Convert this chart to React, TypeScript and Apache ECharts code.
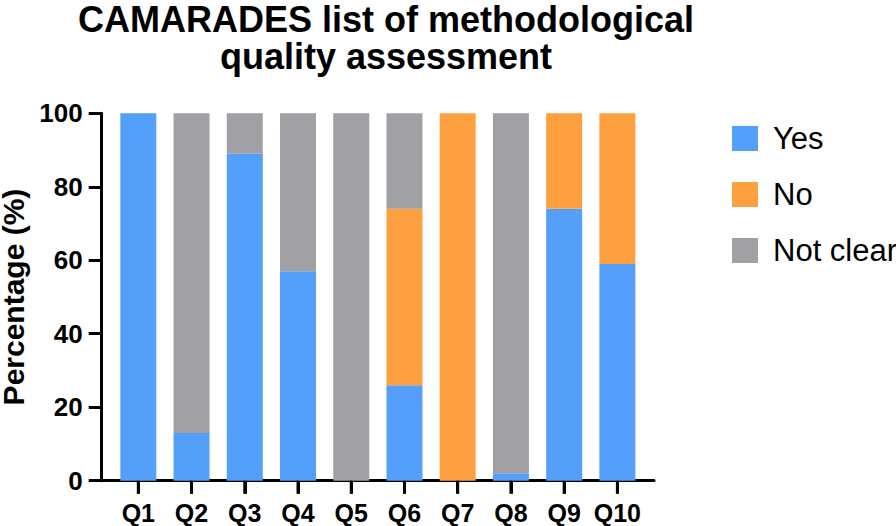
import React, { useEffect, useRef } from "react";
import * as echarts from "echarts";

const categories = ["Q1", "Q2", "Q3", "Q4", "Q5", "Q6", "Q7", "Q8", "Q9", "Q10"];
const yesValues = [100, 13, 89, 57, 0, 26, 0, 2, 74, 59];
const noValues = [0, 0, 0, 0, 0, 48, 100, 0, 26, 41];
const notClearValues = [0, 87, 11, 43, 100, 26, 0, 98, 0, 0];
const seriesNames = ["Yes", "No", "Not clear"];
const yTicks = { min: 0, max: 100, interval: 20 };

const FONT = "'Liberation Sans', Arial, Helvetica, sans-serif";
const COLORS = ["#539FFA", "#FFA040", "#A1A0A5"];

export default function App() {
  const ref = useRef<HTMLDivElement>(null);
  useEffect(() => {
    if (!ref.current) return;
    const chart = echarts.init(ref.current, undefined, { renderer: "svg" });
    const gridTop = 113.3;
    const gridBottom = 45.3;
    const data = [yesValues, noValues, notClearValues];
    const barSeries = seriesNames.map((name, i) => ({
      name,
      type: "bar",
      stack: "total",
      xAxisIndex: 0,
      yAxisIndex: 0,
      barWidth: 36,
      itemStyle: { color: COLORS[i] },
      data: data[i],
    }));
    // x-axis tick marks, placed through the category scale
    const tickSeries = {
      type: "custom",
      name: "ticks",
      xAxisIndex: 0,
      yAxisIndex: 0,
      silent: true,
      clip: false,
      z: 5,
      data: categories.map((_c, i) => [i, 0]),
      encode: { x: 0, y: 1 },
      renderItem: (_params: any, api: any) => {
        const p = api.coord([api.value(0), api.value(1)]);
        return {
          type: "rect",
          shape: { x: p[0] - 1.5, y: p[1], width: 3, height: 13 },
          style: { fill: "#000" },
        };
      },
    };
    chart.setOption({
      animation: false,
      backgroundColor: "#ffffff",
      textStyle: { fontFamily: FONT },
      title: {
        text: "CAMARADES list of methodological\nquality assessment",
        left: 381,
        top: -4,
        textAlign: "center",
        textStyle: {
          fontFamily: FONT,
          fontSize: 36,
          fontWeight: "bold",
          color: "#000",
          lineHeight: 37,
        },
      },
      legend: {
        orient: "vertical",
        left: 727,
        top: 118,
        itemWidth: 26,
        itemHeight: 25,
        itemGap: 25,
        icon: "rect",
        data: seriesNames,
        textStyle: {
          fontFamily: FONT,
          fontSize: 31,
          lineHeight: 25,
          color: "#000",
          padding: [0, 0, 0, 10],
        },
      },
      grid: [
        {
          left: 111.7,
          right: 252,
          top: gridTop,
          bottom: gridBottom,
          containLabel: false,
          outerBoundsMode: "none",
        },
        {
          left: 101.7,
          right: 242,
          top: gridTop,
          bottom: gridBottom,
          containLabel: false,
          outerBoundsMode: "none",
        },
      ],
      xAxis: [
        {
          type: "category",
          gridIndex: 0,
          data: categories,
          axisLine: { show: true, onZero: false, lineStyle: { color: "#000", width: 3 } },
          axisTick: {
            show: true,
            inside: false,
            alignWithLabel: true,
            interval: 0,
            length: 13,
            lineStyle: { color: "#000", width: 3 },
          },
          axisLabel: {
            interval: 0,
            fontFamily: FONT,
            fontSize: 25,
            fontWeight: "bold",
            color: "#000",
            margin: 20,
          },
        },
        {
          type: "value",
          gridIndex: 1,
          min: 0,
          max: 1,
          axisLine: { show: true, onZero: false, lineStyle: { color: "#000", width: 3 } },
          axisTick: { show: false },
          axisLabel: { show: false },
          splitLine: { show: false },
        },
      ],
      yAxis: [
        {
          type: "value",
          gridIndex: 0,
          min: yTicks.min,
          max: yTicks.max,
          interval: yTicks.interval,
          offset: 10,
          name: "Percentage (%)",
          nameLocation: "middle",
          nameGap: 67,
          nameRotate: 90,
          nameTextStyle: {
            fontFamily: FONT,
            fontSize: 30,
            fontWeight: "bold",
            color: "#000",
          },
          axisLine: { show: true, lineStyle: { color: "#000", width: 3 } },
          axisTick: { show: true, length: 13, lineStyle: { color: "#000", width: 3 } },
          axisLabel: {
            fontFamily: FONT,
            fontSize: 26,
            fontWeight: "bold",
            color: "#000",
            margin: 19,
          },
          splitLine: { show: false },
        },
        { type: "value", gridIndex: 1, show: false, min: 0, max: 1 },
      ],
      series: [...barSeries, tickSeries],
    });
    return () => chart.dispose();
  }, []);
  return (
    <div
      ref={ref}
      style={{ position: "fixed", left: 0, top: 0, width: 896, height: 526 }}
    />
  );
}
